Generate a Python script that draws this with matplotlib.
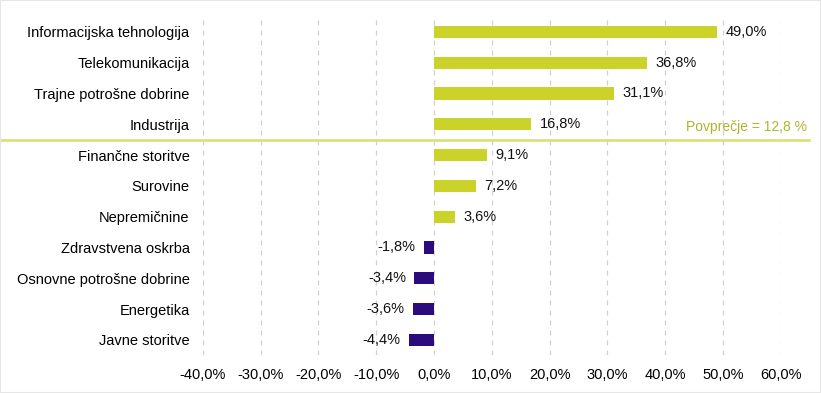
import matplotlib.pyplot as plt
import matplotlib.transforms as mtransforms
from matplotlib.patches import Rectangle

plt.rcParams["font.family"] = ["Liberation Sans", "DejaVu Sans"]

sectors = [
    "Informacijska tehnologija", "Telekomunikacija", "Trajne potrošne dobrine",
    "Industrija", "Finančne storitve", "Surovine", "Nepremičnine",
    "Zdravstvena oskrba", "Osnovne potrošne dobrine", "Energetika", "Javne storitve",
]
returns = [49.0, 36.8, 31.1, 16.8, 9.1, 7.2, 3.6, -1.8, -3.4, -3.6, -4.4]
average = 12.8
xticks = [-40, -30, -20, -10, 0, 10, 20, 30, 40, 50, 60]

pos_colour = "#CBD32B"
neg_colour = "#2C0B7C"

fig = plt.figure(figsize=(8.21, 3.93), dpi=100)
ax = fig.add_axes([0.247, 0.096, 0.704, 0.862])

ypos = list(range(len(sectors)))
colours = [pos_colour if v >= 0 else neg_colour for v in returns]
ax.barh(ypos, returns, height=0.4, color=colours, zorder=3)

for y, v in zip(ypos, returns):
    txt = f"{v:.1f}%".replace(".", ",")
    if v >= 0:
        ax.annotate(txt, (v, y), xytext=(6, 0), textcoords="offset points",
                    va="center", ha="left", fontsize=10.5, color="#111111")
    else:
        ax.annotate(txt, (v, y), xytext=(-6, 0), textcoords="offset points",
                    va="center", ha="right", fontsize=10.5, color="#111111")

ax.set_xlim(-40, 60)
ax.set_ylim(len(sectors) - 0.5, -0.5)
ax.set_xticks(xticks)
ax.set_xticklabels([f"{t:.1f}%".replace(".", ",") for t in xticks], fontsize=10.5)
ax.set_yticks(ypos)
ax.set_yticklabels(sectors, fontsize=10.5)
ax.tick_params(axis="both", length=0, colors="#000000")
ax.tick_params(axis="y", pad=9.5)
ax.tick_params(axis="x", pad=9)
for s in ax.spines.values():
    s.set_visible(False)
ax.grid(axis="x", color="#D0D0D0", linestyle=(0, (4, 4)), linewidth=0.9, zorder=0)
ax.set_axisbelow(True)

# average line spans the whole figure width between Industrija and Finančne
blend = mtransforms.blended_transform_factory(fig.transFigure, ax.transData)
ax.plot([0, 0.985], [3.5, 3.5], transform=blend, color="#DCE17E",
        linewidth=2, clip_on=False, zorder=4)
ax.annotate(f"Povprečje = {average:.1f} %".replace(".", ","), (0.983, 3.5),
            xycoords=blend, xytext=(0, 4), textcoords="offset points",
            ha="right", va="bottom", fontsize=10, color="#AEB52C")

fig.patches.append(Rectangle((0, 0), 1, 1, transform=fig.transFigure,
                             fill=False, edgecolor="#E6E6E6", linewidth=1.5))

fig.savefig("out.png", dpi=100)
